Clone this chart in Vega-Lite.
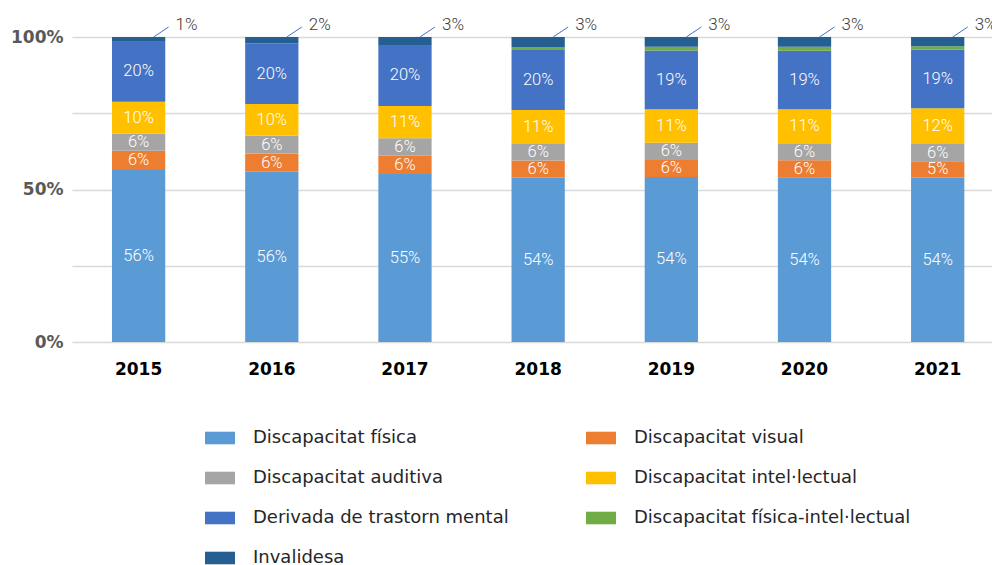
{
  "$schema": "https://vega.github.io/schema/vega-lite/v6.json",
  "autosize": {"type": "none"},
  "width": 920,
  "height": 305,
  "padding": {"left": 72, "top": 37, "right": 0, "bottom": 223},
  "background": "white",
  "config": {"view": {"stroke": null}, "font": "DejaVu Sans"},
  "data": {"values": [
    {"year": "2015", "cat": "Discapacitat física", "ord": 1, "value": 0.564},
    {"year": "2015", "cat": "Discapacitat visual", "ord": 2, "value": 0.063},
    {"year": "2015", "cat": "Discapacitat auditiva", "ord": 3, "value": 0.057},
    {"year": "2015", "cat": "Discapacitat intel·lectual", "ord": 4, "value": 0.104},
    {"year": "2015", "cat": "Derivada de trastorn mental", "ord": 5, "value": 0.199},
    {"year": "2015", "cat": "Discapacitat física-intel·lectual", "ord": 6, "value": 0},
    {"year": "2015", "cat": "Invalidesa", "ord": 7, "value": 0.013},
    {"year": "2016", "cat": "Discapacitat física", "ord": 1, "value": 0.558},
    {"year": "2016", "cat": "Discapacitat visual", "ord": 2, "value": 0.060},
    {"year": "2016", "cat": "Discapacitat auditiva", "ord": 3, "value": 0.058},
    {"year": "2016", "cat": "Discapacitat intel·lectual", "ord": 4, "value": 0.104},
    {"year": "2016", "cat": "Derivada de trastorn mental", "ord": 5, "value": 0.199},
    {"year": "2016", "cat": "Discapacitat física-intel·lectual", "ord": 6, "value": 0},
    {"year": "2016", "cat": "Invalidesa", "ord": 7, "value": 0.021},
    {"year": "2017", "cat": "Discapacitat física", "ord": 1, "value": 0.551},
    {"year": "2017", "cat": "Discapacitat visual", "ord": 2, "value": 0.060},
    {"year": "2017", "cat": "Discapacitat auditiva", "ord": 3, "value": 0.057},
    {"year": "2017", "cat": "Discapacitat intel·lectual", "ord": 4, "value": 0.106},
    {"year": "2017", "cat": "Derivada de trastorn mental", "ord": 5, "value": 0.200},
    {"year": "2017", "cat": "Discapacitat física-intel·lectual", "ord": 6, "value": 0},
    {"year": "2017", "cat": "Invalidesa", "ord": 7, "value": 0.026},
    {"year": "2018", "cat": "Discapacitat física", "ord": 1, "value": 0.539},
    {"year": "2018", "cat": "Discapacitat visual", "ord": 2, "value": 0.056},
    {"year": "2018", "cat": "Discapacitat auditiva", "ord": 3, "value": 0.057},
    {"year": "2018", "cat": "Discapacitat intel·lectual", "ord": 4, "value": 0.109},
    {"year": "2018", "cat": "Derivada de trastorn mental", "ord": 5, "value": 0.196},
    {"year": "2018", "cat": "Discapacitat física-intel·lectual", "ord": 6, "value": 0.010},
    {"year": "2018", "cat": "Invalidesa", "ord": 7, "value": 0.033},
    {"year": "2019", "cat": "Discapacitat física", "ord": 1, "value": 0.541},
    {"year": "2019", "cat": "Discapacitat visual", "ord": 2, "value": 0.056},
    {"year": "2019", "cat": "Discapacitat auditiva", "ord": 3, "value": 0.056},
    {"year": "2019", "cat": "Discapacitat intel·lectual", "ord": 4, "value": 0.110},
    {"year": "2019", "cat": "Derivada de trastorn mental", "ord": 5, "value": 0.193},
    {"year": "2019", "cat": "Discapacitat física-intel·lectual", "ord": 6, "value": 0.012},
    {"year": "2019", "cat": "Invalidesa", "ord": 7, "value": 0.032},
    {"year": "2020", "cat": "Discapacitat física", "ord": 1, "value": 0.540},
    {"year": "2020", "cat": "Discapacitat visual", "ord": 2, "value": 0.056},
    {"year": "2020", "cat": "Discapacitat auditiva", "ord": 3, "value": 0.056},
    {"year": "2020", "cat": "Discapacitat intel·lectual", "ord": 4, "value": 0.111},
    {"year": "2020", "cat": "Derivada de trastorn mental", "ord": 5, "value": 0.192},
    {"year": "2020", "cat": "Discapacitat física-intel·lectual", "ord": 6, "value": 0.013},
    {"year": "2020", "cat": "Invalidesa", "ord": 7, "value": 0.032},
    {"year": "2021", "cat": "Discapacitat física", "ord": 1, "value": 0.539},
    {"year": "2021", "cat": "Discapacitat visual", "ord": 2, "value": 0.054},
    {"year": "2021", "cat": "Discapacitat auditiva", "ord": 3, "value": 0.056},
    {"year": "2021", "cat": "Discapacitat intel·lectual", "ord": 4, "value": 0.117},
    {"year": "2021", "cat": "Derivada de trastorn mental", "ord": 5, "value": 0.193},
    {"year": "2021", "cat": "Discapacitat física-intel·lectual", "ord": 6, "value": 0.011},
    {"year": "2021", "cat": "Invalidesa", "ord": 7, "value": 0.030}
  ]},
  "transform": [
    {"stack": "value", "groupby": ["year"], "sort": [{"field": "ord", "order": "ascending"}], "as": ["y0", "y1"]},
    {"calculate": "(datum.y0 + datum.y1) / 2", "as": "ymid"}
  ],
  "encoding": {
    "x": {
      "field": "year", "type": "ordinal",
      "scale": {"paddingInner": 0.6, "paddingOuter": 0.254, "align": 0.591},
      "axis": {"title": null, "domain": false, "ticks": false, "labelAngle": 0, "labelFont": "DejaVu Sans", "labelFontWeight": "bold", "labelFontSize": 17, "labelColor": "#000000", "labelPadding": 19, "labelBaseline": "top"}
    }
  },
  "layer": [
    {
      "mark": {"type": "bar"},
      "encoding": {
        "y": {
          "field": "y0", "type": "quantitative",
          "scale": {"domain": [0, 1], "nice": false},
          "axis": {"title": null, "values": [0, 0.25, 0.5, 0.75, 1], "format": ".0%", "labelExpr": "datum.value == 0.25 || datum.value == 0.75 ? '' : datum.label", "domain": false, "ticks": false, "grid": true, "gridColor": "#D9D9D9", "gridWidth": 1.5, "labelPadding": 9, "labelFont": "DejaVu Sans", "labelFontWeight": "bold", "labelFontSize": 17, "labelColor": "#595959"}
        },
        "y2": {"field": "y1"},
        "color": {
          "field": "cat", "type": "nominal",
          "scale": {
            "domain": ["Discapacitat física", "Discapacitat visual", "Discapacitat auditiva", "Discapacitat intel·lectual", "Derivada de trastorn mental", "Discapacitat física-intel·lectual", "Invalidesa"],
            "range": ["#5B9BD5", "#ED7D31", "#A5A5A5", "#FFC000", "#4472C4", "#70AD47", "#255E91"]
          },
          "legend": {"orient": "none", "direction": "horizontal", "legendX": 133, "legendY": 386, "columns": 2, "title": null, "symbolType": "M-1,-0.42H1V0.42H-1Z", "symbolSize": 900, "symbolStrokeWidth": 0, "symbolOpacity": 1, "labelFont": "DejaVu Sans", "labelFontSize": 18, "labelColor": "#262626", "labelOffset": 18, "rowPadding": 16, "columnPadding": 77, "padding": 0, "offset": 0, "labelLimit": 400}
        }
      }
    },
    {
      "transform": [{"filter": "datum.ord <= 5"}],
      "mark": {"type": "text", "font": "Roboto", "fontWeight": 300, "fontSize": 16.5, "color": "#FFFFFF", "baseline": "middle"},
      "encoding": {
        "y": {"field": "ymid", "type": "quantitative"},
        "text": {"field": "value", "type": "quantitative", "format": ".0%"}
      }
    },
    {
      "transform": [{"filter": "datum.ord == 7"}],
      "mark": {"type": "rule", "color": "#4472C4", "strokeWidth": 1, "xOffset": 15, "x2Offset": 30, "y2Offset": -10},
      "encoding": {
        "x2": {"field": "year"},
        "y": {"datum": 1},
        "y2": {"datum": 1}
      }
    },
    {
      "transform": [{"filter": "datum.ord == 7"}],
      "mark": {"type": "text", "font": "Roboto", "fontWeight": 300, "fontSize": 17, "color": "#404040", "align": "left", "baseline": "middle", "xOffset": 37, "yOffset": -12.5},
      "encoding": {
        "y": {"datum": 1},
        "text": {"field": "value", "type": "quantitative", "format": ".0%"}
      }
    }
  ]
}
